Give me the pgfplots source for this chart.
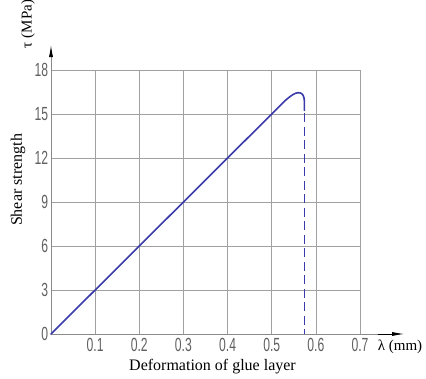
\documentclass[border=0pt]{standalone}
\usepackage{fontspec}
\setmainfont{Liberation Serif}
\newfontfamily\tickfont{Liberation Sans}
\usepackage{pgfplots}
\pgfplotsset{compat=1.18}
\usetikzlibrary{arrows.meta}
\definecolor{curve}{HTML}{3A3AAA}
\definecolor{gridc}{HTML}{A0A0A0}
\definecolor{axisc}{HTML}{8A8A8A}
\definecolor{tickc}{HTML}{606060}
\begin{document}
\begin{tikzpicture}
\useasboundingbox (-51pt,-45pt) rectangle (375pt,334pt);
\begin{axis}[
  at={(0pt,0pt)}, anchor=south west,
  scale only axis, width=309pt, height=264pt,
  xmin=0, xmax=0.7, ymin=0, ymax=18,
  axis lines=left,
  axis line style={draw=none},
  xtick={0.1,0.2,0.3,0.4,0.5,0.6,0.7},
  ytick={0,3,6,9,12,15,18},
  grid=major,
  major grid style={gridc, line width=0.6pt},
  major tick length=0pt,
  tick label style={font=\tickfont\fontsize{19}{19}\selectfont, text=tickc, xscale=0.64},
  xticklabel style={yshift=-1pt},
  yticklabel style={xshift=-1pt},
  /pgf/number format/assume math mode=true,
  /pgf/number format/.cd, fixed, precision=1,
  /pgfplots/.cd,
  clip=false,
]
\draw[axisc, line width=0.8pt] (axis cs:0,0) -- (axis cs:0.75,0);
\draw[axisc, line width=0.8pt] (axis cs:0,0) -- (axis cs:0,19.3);
\draw[black, line width=0.8pt, -{Latex[length=12pt,width=4pt]}] (axis cs:0.74,0) -- (axis cs:0.8,0);
\draw[black, line width=0.8pt, -{Latex[length=12pt,width=4pt]}] (axis cs:0,19) -- (axis cs:0,19.7);
\addplot[curve, line width=1.6pt, line join=round, line cap=round] coordinates {
  (0,0) (0.53,15.9) (0.537,16.08) (0.543,16.22) (0.549,16.34) (0.554,16.41) (0.559,16.45) (0.564,16.44) (0.568,16.39) (0.571,16.28) (0.573,16.12) (0.574,15.9) (0.574,15.25)
};
\addplot[curve, line width=1.6pt, dash pattern=on 9pt off 4.5pt] coordinates {
  (0.574,15.05) (0.574,0)
};
\end{axis}
\node[rotate=90, font=\fontsize{15}{15}\selectfont] at (-23pt,310pt) {τ (MPa)};
\node[rotate=90, font=\fontsize{16}{16}\selectfont] at (-33pt,154pt) {Shear strength};
\node[font=\fontsize{16}{16}\selectfont] at (161.5pt,-33pt) {Deformation of glue layer};
\node[font=\fontsize{15}{15}\selectfont] at (349pt,-13pt) {λ (mm)};
\end{tikzpicture}
\end{document}
